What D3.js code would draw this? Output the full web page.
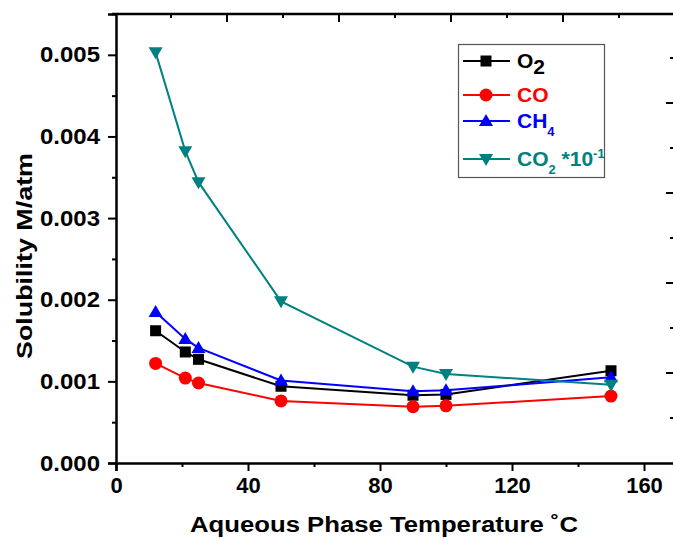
<!DOCTYPE html>
<html>
<head>
<meta charset="utf-8">
<script src="https://cdn.jsdelivr.net/npm/d3@7"></script>
<style>
body { margin: 0; background: #fff; }
text { font-family: "Liberation Sans", Arial, sans-serif; font-weight: bold; }
</style>
</head>
<body>
<div></div>
<script>
var width = 673;
var height = 540;

var temps = [12, 21, 25, 50, 90, 100, 150];
var o2  = [0.00162, 0.00136, 0.00127, 0.00094, 0.00083, 0.00084, 0.00113];
var co  = [0.00122, 0.00104, 0.00098, 0.00076, 0.00069, 0.00070, 0.00082];
var ch4 = [0.00185, 0.00152, 0.00141, 0.00101, 0.00088, 0.00089, 0.00105];
var co2 = [0.00503, 0.00382, 0.00344, 0.00198, 0.00118, 0.00109, 0.00096];

var xTicks = [0, 40, 80, 120, 160];
var yTicks = [0, 0.001, 0.002, 0.003, 0.004, 0.005];

var series = [
  {name: "O2", values: o2, color: "#000000", marker: "square"},
  {name: "CO", values: co, color: "#ff0000", marker: "circle"},
  {name: "CH4", values: ch4, color: "#0000ff", marker: "up"},
  {name: "CO2", values: co2, color: "#008080", marker: "down"}
];

var plotLeft = 116, plotRight = 677, plotTop = 14, plotBottom = 463;

var x = d3.scaleLinear().domain([0, 170]).range([plotLeft, plotRight]);
var y = d3.scaleLinear().domain([0, 0.0055]).range([plotBottom, plotTop]);

// leftover ticks of the cropped top and right axes
var xTop = d3.scaleLinear().domain([0, 10]).range([plotLeft - 1, 675]);
var yRight = d3.scaleLinear().domain([0, 10]).range([plotBottom, 13]);

var svg = d3.select("div")
  .append("svg")
  .attr("width", width)
  .attr("height", height);

// bottom axis
var xAxis = svg.append("g")
  .attr("transform", "translate(0," + plotBottom + ")")
  .call(d3.axisBottom(x).tickValues(xTicks).tickFormat(d3.format("d")).tickSize(8).tickPadding(6));
xAxis.selectAll(".tick text").style("font-size", "22px").attr("dy", "0.72em");

svg.append("g")
  .attr("transform", "translate(0," + plotBottom + ")")
  .call(d3.axisBottom(x).tickValues([20, 60, 100, 140]).tickFormat("").tickSize(4))
  .select(".domain").remove();

// left axis
var yAxis = svg.append("g")
  .attr("transform", "translate(" + plotLeft + ",0)")
  .call(d3.axisLeft(y).tickValues(yTicks).tickFormat(d3.format(".3f")).tickSize(8).tickPadding(8));
yAxis.selectAll(".tick text")
  .style("font-size", "22px")
  .attr("textLength", 60)
  .attr("lengthAdjust", "spacingAndGlyphs");

svg.append("g")
  .attr("transform", "translate(" + plotLeft + ",0)")
  .call(d3.axisLeft(y).tickValues([0.0005, 0.0015, 0.0025, 0.0035, 0.0045]).tickFormat("").tickSize(4))
  .select(".domain").remove();

svg.selectAll(".domain").attr("stroke-width", 2.5);
svg.selectAll(".tick line").attr("stroke-width", 2);

// top spine with its ticks
svg.append("line")
  .attr("x1", plotLeft - 4).attr("x2", width)
  .attr("y1", plotTop).attr("y2", plotTop)
  .attr("stroke", "#000").attr("stroke-width", 2.5);

svg.append("g").selectAll("line")
  .data(d3.range(1, 11))
  .enter().append("line")
  .attr("x1", function(d) { return xTop(d); })
  .attr("x2", function(d) { return xTop(d); })
  .attr("y1", plotTop)
  .attr("y2", function(d) { return d % 2 === 0 ? plotTop + 8 : plotTop + 4; })
  .attr("stroke", "#000").attr("stroke-width", 2);

// right side ticks
svg.append("g").selectAll("line")
  .data(d3.range(1, 10))
  .enter().append("line")
  .attr("y1", function(d) { return yRight(d); })
  .attr("y2", function(d) { return yRight(d); })
  .attr("x1", function(d) { return d % 2 === 0 ? width - 7 : width - 3; })
  .attr("x2", width)
  .attr("stroke", "#000").attr("stroke-width", 2);

// axis titles
svg.append("text")
  .attr("x", 384)
  .attr("y", 532)
  .attr("text-anchor", "middle")
  .style("font-size", "22px")
  .attr("textLength", 388)
  .attr("lengthAdjust", "spacingAndGlyphs")
  .text("Aqueous Phase Temperature \u02daC");

svg.append("text")
  .attr("transform", "translate(32,256) rotate(-90)")
  .attr("text-anchor", "middle")
  .style("font-size", "22px")
  .attr("textLength", 206)
  .attr("lengthAdjust", "spacingAndGlyphs")
  .text("Solubility M/atm");

function drawMarker(g, type, cx, cy, color) {
  if (type === "square") {
    g.append("rect").attr("x", cx - 5.5).attr("y", cy - 5.5)
      .attr("width", 11).attr("height", 11).attr("fill", color);
  } else if (type === "circle") {
    g.append("circle").attr("cx", cx).attr("cy", cy).attr("r", 6.5).attr("fill", color);
  } else if (type === "up") {
    g.append("path").attr("d", "M" + cx + "," + (cy - 7) + "L" + (cx + 7) + "," + (cy + 5) + "L" + (cx - 7) + "," + (cy + 5) + "Z")
      .attr("fill", color);
  } else {
    g.append("path").attr("d", "M" + cx + "," + (cy + 7) + "L" + (cx + 7) + "," + (cy - 5) + "L" + (cx - 7) + "," + (cy - 5) + "Z")
      .attr("fill", color);
  }
}

var line = d3.line()
  .x(function(d) { return x(d[0]); })
  .y(function(d) { return y(d[1]); });

series.forEach(function(s) {
  var pts = temps.map(function(t, i) { return [t, s.values[i]]; });
  var g = svg.append("g");
  g.append("path")
    .attr("d", line(pts))
    .attr("fill", "none")
    .attr("stroke", s.color)
    .attr("stroke-width", 2);
  pts.forEach(function(p) {
    drawMarker(g, s.marker, x(p[0]), y(p[1]), s.color);
  });
});

// legend
var legend = svg.append("g");
legend.append("rect")
  .attr("x", 458.5).attr("y", 44.5)
  .attr("width", 146).attr("height", 133)
  .attr("fill", "#fff")
  .attr("stroke", "#555").attr("stroke-width", 1.2);

var rowY = [61, 95, 121, 159];
series.forEach(function(s, i) {
  legend.append("line")
    .attr("x1", 463).attr("x2", 510)
    .attr("y1", rowY[i]).attr("y2", rowY[i])
    .attr("stroke", s.color).attr("stroke-width", 2);
  drawMarker(legend, s.marker, 486, rowY[i], s.color);
});

var t1 = legend.append("text").attr("x", 517).attr("y", rowY[0] + 7).style("font-size", "21px").attr("fill", "#000");
t1.append("tspan").text("O");
t1.append("tspan").attr("dy", 6).text("2");

legend.append("text").attr("x", 517).attr("y", rowY[1] + 7).style("font-size", "21px")
  .attr("fill", "#ff0000").text("CO");

var t3 = legend.append("text").attr("x", 517).attr("y", rowY[2] + 7).style("font-size", "21px").attr("fill", "#0000ff");
t3.append("tspan").text("CH");
t3.append("tspan").attr("dy", 8).style("font-size", "13px").text("4");

var t4 = legend.append("text").attr("x", 517).attr("y", rowY[3] + 7).style("font-size", "21px").attr("fill", "#008080");
t4.append("tspan").text("CO");
t4.append("tspan").attr("dy", 8).style("font-size", "13px").text("2");
t4.append("tspan").attr("dy", -8).text(" *10");
t4.append("tspan").attr("dy", -8).style("font-size", "13px").text("-1");
</script>
</body>
</html>
